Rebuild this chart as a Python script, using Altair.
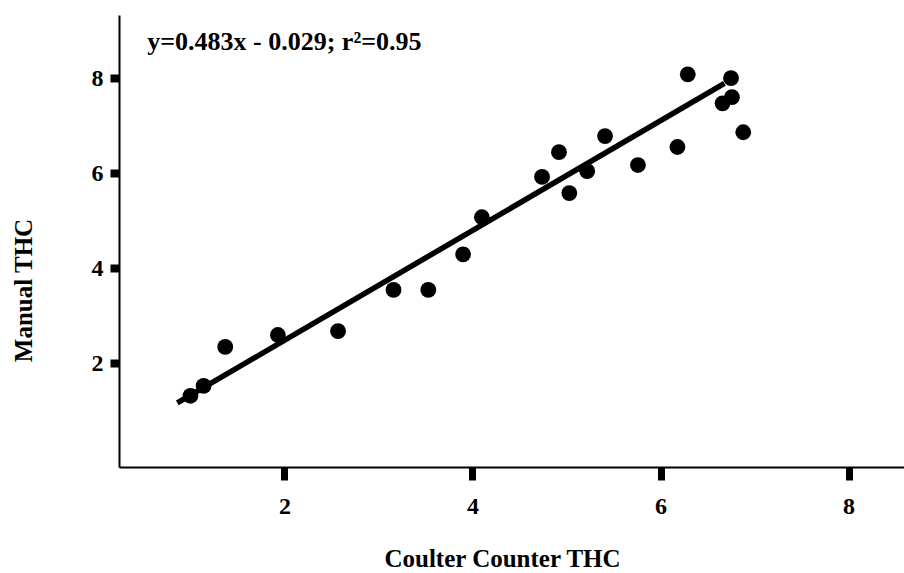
import altair as alt
import pandas as pd

# Scatter data
coulter = [1.00, 1.14, 1.37, 1.93, 2.57, 3.16, 3.53, 3.90, 4.10, 4.74, 4.92,
           5.03, 5.22, 5.41, 5.76, 6.18, 6.29, 6.66, 6.75, 6.76, 6.88]
manual = [1.31, 1.52, 2.34, 2.59, 2.67, 3.54, 3.54, 4.29, 5.07, 5.92, 6.44,
          5.58, 6.04, 6.78, 6.17, 6.55, 8.08, 7.47, 8.00, 7.60, 6.86]

# Fitted line end points as drawn
line_x = [0.86, 6.68]
line_y = [1.16, 7.89]

# Annotation
note_text = ["y=0.483x - 0.029; r\u00b2=0.95"]
note_x = [0.54]
note_y = [8.76]

x_ticks = [2, 4, 6, 8]
y_ticks = [2, 4, 6, 8]

FONT = "Liberation Serif"

pts = pd.DataFrame({"x": coulter, "y": manual})
ln = pd.DataFrame({"x": line_x, "y": line_y})
nt = pd.DataFrame({"x": note_x, "y": note_y, "t": note_text})

xs = alt.Scale(domain=[0.24, 8.59], nice=False, zero=False)
ys = alt.Scale(domain=[-0.19, 9.33], nice=False, zero=False)

xaxis = alt.Axis(values=x_ticks, format="d", title="Coulter Counter THC", grid=False,
                 domainColor="black", domainWidth=2, tickColor="black",
                 tickWidth=7, tickSize=13, labelFont=FONT, labelFontWeight="bold",
                 labelFontSize=24, labelColor="black", labelPadding=33,
                 labelBaseline="alphabetic",
                 titleFont=FONT, titleFontWeight="bold", titleFontSize=25,
                 titleColor="black", titleX=383, titleY=99,
                 titleBaseline="alphabetic", titleAlign="center",
                 labelFlush=False)
yaxis = alt.Axis(values=y_ticks, format="d", title="Manual THC", grid=False,
                 domainColor="black", domainWidth=2, tickColor="black",
                 tickWidth=8, tickSize=9, labelFont=FONT, labelFontWeight="bold",
                 labelFontSize=24, labelColor="black", labelPadding=7,
                 titleFont=FONT, titleFontWeight="bold", titleFontSize=25,
                 titleColor="black", titleX=-88, titleY=275, titleAngle=270,
                 titleBaseline="alphabetic", titleAlign="center",
                 labelFlush=False)

points = alt.Chart(pts).mark_circle(size=250, color="black", opacity=1).encode(
    x=alt.X("x:Q", scale=xs, axis=xaxis),
    y=alt.Y("y:Q", scale=ys, axis=yaxis),
)

fit = alt.Chart(ln).mark_line(color="black", strokeWidth=5.5).encode(
    x=alt.X("x:Q", scale=xs),
    y=alt.Y("y:Q", scale=ys),
)

note = alt.Chart(nt).mark_text(font=FONT, fontWeight="bold", fontSize=26,
                               align="left", baseline="middle",
                               color="black").encode(
    x=alt.X("x:Q", scale=xs),
    y=alt.Y("y:Q", scale=ys),
    text="t:N",
)

chart = (fit + points + note).properties(
    width=785, height=452,
    padding={"left": 119, "top": 15, "right": 0, "bottom": 106},
    autosize=alt.AutoSizeParams(type="none"),
    background="white",
).configure_view(stroke=None)

chart.save("out.html", embed_options={"renderer": "svg", "actions": False})
